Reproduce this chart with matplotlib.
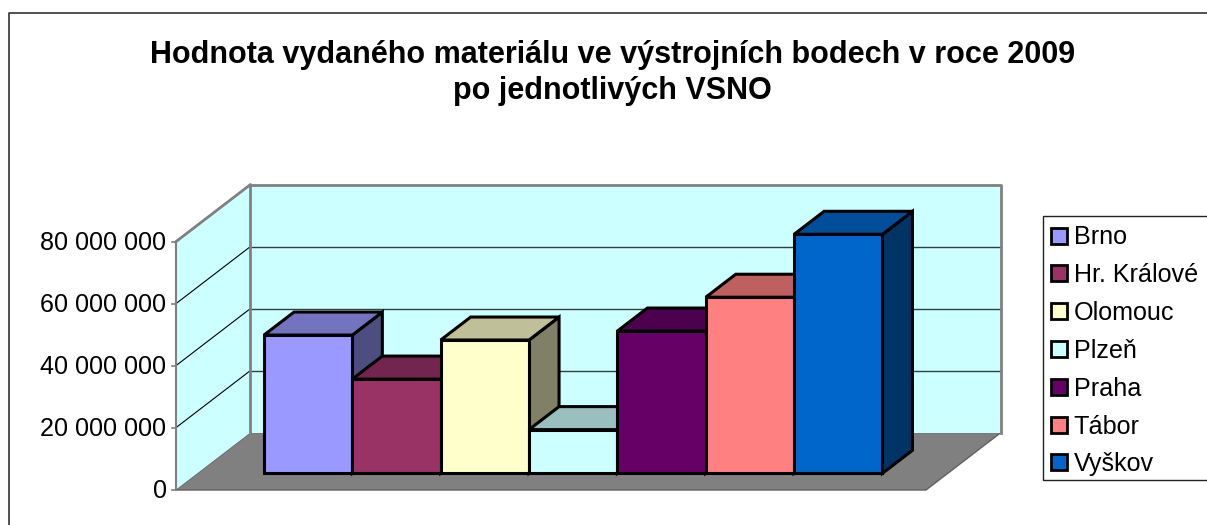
import matplotlib
matplotlib.use('Agg')
import matplotlib.pyplot as plt
from matplotlib.patches import Polygon, Rectangle

categories = ['Brno', 'Hr. Králové', 'Olomouc', 'Plzeň', 'Praha', 'Tábor', 'Vyškov']
values = [44600000, 30400000, 43000000, 14100000, 45900000, 56800000, 77100000]
colors = ['#9999FF', '#993366', '#FFFFCC', '#CCFFFF', '#660066', '#FF8080', '#0066CC']
y_ticks = [0, 20000000, 40000000, 60000000, 80000000]
y_tick_labels = ['0', '20 000 000', '40 000 000', '60 000 000', '80 000 000']
title = 'Hodnota vydaného materiálu ve výstrojních bodech v roce 2009\npo jednotlivých VSNO'

# projection of the fake 3d box, in pixels of the figure
x0, y0 = 175.5, 490
px_per_unit = 248.0 / 80000000
wall_dx, wall_dy = 75, -57.5
floor_w = 750.5
bar_w = 88.35
bar_start = 66.75
bar_front = 0.29
bar_depth = 0.40


def project(x, val, depth):
	# x in pixels along the front edge, depth 0 (front) to 1 (back wall)
	return (x0 + x + depth * wall_dx, y0 - val * px_per_unit + depth * wall_dy)


def shade(col, k):
	r, g, b = matplotlib.colors.to_rgb(col)
	return (r * k, g * k, b * k)


plt.rcParams['font.family'] = ['Liberation Sans', 'DejaVu Sans']
f = plt.figure(figsize=(12.07, 5.25), dpi=100)
ax = f.add_axes([0, 0, 1, 1])
ax.set_xlim(0, 1207)
ax.set_ylim(525, 0)
ax.axis('off')

# outer chart frame
ax.plot([8.5, 8.5, 1207], [525, 12.5, 12.5], color='#333333', lw=1.2, solid_capstyle='butt')

top = y_ticks[-1]
# floor and walls
ax.add_patch(Polygon([project(0, 0, 0), project(floor_w, 0, 0), project(floor_w, 0, 1), project(0, 0, 1)], fc='#808080', ec='#606060', lw=1))
ax.add_patch(Polygon([project(0, 0, 0), project(0, top, 0), project(0, top, 1), project(0, 0, 1)], fc='#CCFFFF', ec='none'))
ax.add_patch(Polygon([project(0, 0, 1), project(0, top, 1), project(floor_w, top, 1), project(floor_w, 0, 1)], fc='#CCFFFF', ec='none'))

# gridlines
for t in y_ticks[1:-1]:
	a, b, c = project(0, t, 0), project(0, t, 1), project(floor_w, t, 1)
	ax.plot([a[0], b[0]], [a[1], b[1]], color='black', lw=0.8)
	ax.plot([b[0], c[0]], [b[1], c[1]], color='#304040', lw=1)
for t in [y_ticks[-1]]:
	a, b, c = project(0, t, 1), project(floor_w, t, 1), project(floor_w, 0, 1)
	ax.plot([a[0], b[0], c[0]], [a[1], b[1], c[1]], color='#808080', lw=2)
	a, b, c = project(0, t, 0), project(0, t, 1), project(0, 0, 1)
	ax.plot([a[0], b[0], c[0]], [a[1], b[1], c[1]], color='#808080', lw=2)

# value axis and ticks
a, b = project(0, 0, 0), project(0, top, 0)
ax.plot([a[0], b[0]], [a[1], b[1]], color='#808080', lw=1.5)
for t, lab in zip(y_ticks, y_tick_labels):
	p = project(0, t, 0)
	ax.plot([p[0] - 4, p[0]], [p[1], p[1]], color='#808080', lw=1.2)
	ax.text(166.5, p[1] + 1, lab, ha='right', va='center', fontsize=18.1, color='black')

# bars, painted back to front from the left so neighbours overlap like the original
for i, (val, col) in enumerate(zip(values, colors)):
	l = bar_start + i * bar_w
	r = l + bar_w
	d0 = bar_front
	d1 = bar_front + bar_depth
	# side
	ax.add_patch(Polygon([project(r, 0, d0), project(r, val, d0), project(r, val, d1), project(r, 0, d1)],
		fc=shade(col, 0.5), ec='black', lw=2.2, joinstyle='miter', zorder=3 + 0.1 * i))
	# top
	ax.add_patch(Polygon([project(l, val, d0), project(r, val, d0), project(r, val, d1), project(l, val, d1)],
		fc=shade(col, 0.75), ec='black', lw=2.2, joinstyle='miter', zorder=3 + 0.1 * i))
for i, (val, col) in enumerate(zip(values, colors)):
	l = bar_start + i * bar_w
	r = l + bar_w
	ax.add_patch(Polygon([project(l, 0, bar_front), project(r, 0, bar_front), project(r, val, bar_front), project(l, val, bar_front)],
		fc=col, ec='black', lw=2.2, joinstyle='miter', zorder=5))

# legend, right side runs off the picture
ax.add_patch(Rectangle((1042.5, 216), 170, 264, fc='white', ec='#222222', lw=1))
for i, (name, col) in enumerate(zip(categories, colors)):
	yy = 235.5 + i * 37.8
	ax.add_patch(Rectangle((1051, yy - 8), 16, 16, fc=col, ec='black', lw=2, joinstyle='miter'))
	ax.text(1073.5, yy + 2, name, ha='left', va='center', fontsize=18.1, color='black')

ax.text(612.5, 73, title, ha='center', va='center', fontsize=22, fontweight='bold', color='black', linespacing=1.22)

plt.savefig('out.png', dpi=100)
